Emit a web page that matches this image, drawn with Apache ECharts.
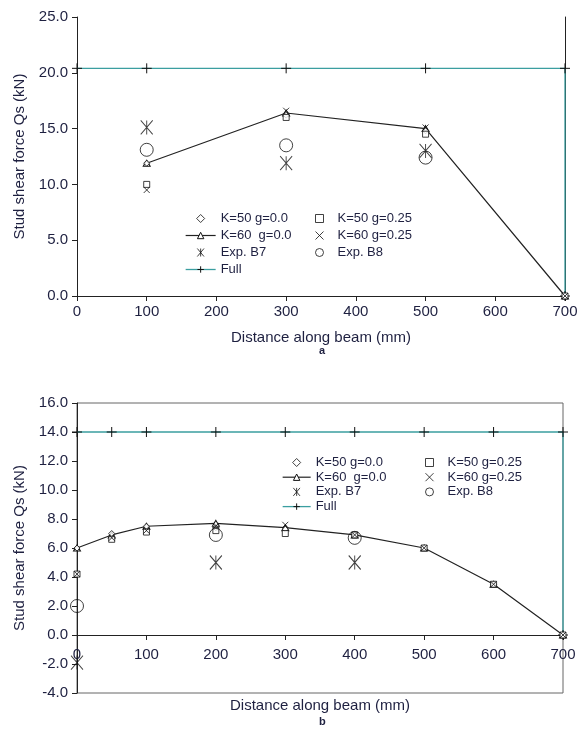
<!DOCTYPE html>
<html>
<head>
<meta charset="utf-8">
<script src="https://cdn.jsdelivr.net/npm/echarts@6/dist/echarts.min.js"></script>
<style>
  html, body { margin: 0; padding: 0; background: #fff; }
  #chart { width: 577px; height: 732px; }
</style>
</head>
<body>
<div id="chart"></div>
<script>
// ---- Panel a: stud shear force along the beam ----
const xA = [100, 300, 500, 700];
const aK50g0 = [11.9, 16.2, 14.8, 0];
const aK60g0 = [11.9, 16.4, 15.0, 0];
const aK50g25 = [10.0, 16.0, 14.5, 0];
const aK60g25 = [9.5, 16.6, 15.1, 0];
const xExpA = [100, 300, 500];
const aB7 = [15.1, 11.9, 13.0];
const aB8 = [13.1, 13.5, 12.4];
const xFullA = [0, 100, 300, 500, 700, 700];
const aFull = [20.4, 20.4, 20.4, 20.4, 20.4, 0];

// ---- Panel b ----
const xB = [0, 50, 100, 200, 300, 400, 500, 600, 700];
const bK50g0 = [6.0, 7.0, 7.5, 7.4, 7.3, 6.9, 6.0, 3.5, 0];
const bK60g0 = [6.0, 6.9, 7.5, 7.7, 7.4, 6.9, 6.0, 3.5, 0];
const bK50g25 = [4.2, 6.6, 7.1, 7.2, 7.0, 6.9, 6.0, 3.5, 0];
const bK60g25 = [4.2, 6.7, 7.2, 7.5, 7.6, 6.9, 6.0, 3.5, 0];
const xExpB = [0, 200, 400];
const bB7 = [-1.9, 5.0, 5.0];
const bB8 = [2.0, 6.9, 6.7];
const xFullB = [0, 50, 100, 200, 300, 400, 500, 600, 700, 700];
const bFull = [14.0, 14.0, 14.0, 14.0, 14.0, 14.0, 14.0, 14.0, 14.0, 0];

// y range of panel b; the distance axis sits on the zero line
const yMinB = -4, yMaxB = 16;
const gridBHeight = 290;

const NAMES = {
  k50g0: 'K=50 g=0.0',
  k60g0: 'K=60  g=0.0',
  b7: 'Exp. B7',
  full: 'Full',
  k50g25: 'K=50 g=0.25',
  k60g25: 'K=60 g=0.25',
  b8: 'Exp. B8'
};

const FONT = '"Liberation Sans", Arial, sans-serif';
const TXT = '#1e2040';
const TEAL = '#3b9ea0';

const SYM = {
  diamond: 'path://M5,0L10,5L5,10L0,5Z',
  triangle: 'path://M5,0L10,9L0,9Z',
  square: 'path://M0,0L10,0L10,10L0,10Z',
  cross: 'path://M0,0L10,10M10,0L0,10',
  star: 'path://M0,0L10,12M10,0L0,12M5,0L5,12',
  plus: 'path://M5,0L5,10M0,5L10,5'
};

const zip = (xs, ys) => xs.map((x, i) => [x, ys[i]]);

const hollow = { color: '#fff', borderColor: '#111', borderWidth: 1 };
const stroke = { color: 'none', borderColor: '#111', borderWidth: 1 };

function panelSeries(g, d) {
  const y = g === 0 ? 0 : 2;
  return [
    { name: NAMES.full, type: 'line', xAxisIndex: g, yAxisIndex: y,
      data: zip(d.xFull, d.full), symbol: SYM.plus, symbolSize: 10,
      lineStyle: { color: TEAL, width: 1.3 }, itemStyle: { color: 'none', borderColor: '#111', borderWidth: 1 }, z: 2 },
    { name: NAMES.k60g0, type: 'line', xAxisIndex: g, yAxisIndex: y,
      data: zip(d.x, d.k60g0), symbol: SYM.triangle, symbolSize: [7, 6],
      lineStyle: { color: '#222', width: 1.2 }, itemStyle: hollow, z: 3 },
    { name: NAMES.k50g0, type: 'scatter', xAxisIndex: g, yAxisIndex: y,
      data: zip(d.x, d.k50g0), symbol: SYM.diamond, symbolSize: 6, itemStyle: hollow, z: 4 },
    { name: NAMES.k50g25, type: 'scatter', xAxisIndex: g, yAxisIndex: y,
      data: zip(d.x, d.k50g25), symbol: SYM.square, symbolSize: 6, itemStyle: hollow, z: 4 },
    { name: NAMES.k60g25, type: 'scatter', xAxisIndex: g, yAxisIndex: y,
      data: zip(d.x, d.k60g25), symbol: SYM.cross, symbolSize: 6, itemStyle: stroke, z: 4 },
    { name: NAMES.b7, type: 'scatter', xAxisIndex: g, yAxisIndex: y,
      data: zip(d.xExp, d.b7), symbol: SYM.star, symbolSize: [12, 14], itemStyle: stroke, z: 4 },
    { name: NAMES.b8, type: 'scatter', xAxisIndex: g, yAxisIndex: y,
      data: zip(d.xExp, d.b8), symbol: 'circle', symbolSize: 13,
      itemStyle: { color: 'none', borderColor: '#111', borderWidth: 1 }, z: 4 }
  ];
}

function legend(left, top, width, gap, names) {
  return {
    orient: 'vertical', left: left, top: top, padding: 0,
    itemWidth: width, itemHeight: 8, itemGap: gap,
    selectedMode: false, symbolKeepAspect: true,
    itemStyle: { borderWidth: 1 }, lineStyle: { width: 1 },
    textStyle: { fontFamily: FONT, fontSize: 13, color: TXT, lineHeight: 13 },
    data: names.map(n => n === NAMES.full
      ? { name: n, lineStyle: { color: TEAL, width: 1.3 } }
      : n === NAMES.k60g0 ? { name: n, lineStyle: { color: '#222', width: 1.2 } } : n)
  };
}

const fmt1 = v => v.toFixed(1);
const axisFont = { fontFamily: FONT, fontSize: 15, color: TXT };

const option = {
  animation: false,
  backgroundColor: '#fff',
  grid: [
    { left: 77, top: 17, width: 488, height: 279, show: false, outerBoundsMode: 'none', containLabel: false },
    { left: 77, top: 403, width: 486, height: gridBHeight, show: true, borderColor: '#666', borderWidth: 1,
      outerBoundsMode: 'none', containLabel: false }
  ],
  xAxis: [
    { gridIndex: 0, type: 'value', min: 0, max: 700, interval: 100,
      axisLine: { lineStyle: { color: '#222' } }, axisTick: { length: 5, lineStyle: { color: '#222' } },
      axisLabel: Object.assign({ margin: 8 }, axisFont), splitLine: { show: false },
      name: 'Distance along beam (mm)', nameLocation: 'middle', nameGap: 34, nameTextStyle: axisFont },
    { gridIndex: 1, type: 'value', min: 0, max: 700, interval: 100,
      offset: -gridBHeight * (0 - yMinB) / (yMaxB - yMinB),
      axisLine: { onZero: false, lineStyle: { color: '#222' } }, axisTick: { length: 5, lineStyle: { color: '#222' } },
      axisLabel: Object.assign({ margin: 12 }, axisFont), splitLine: { show: false },
      name: 'Distance along beam (mm)', nameLocation: 'middle', nameGap: 63, nameTextStyle: axisFont }
  ],
  yAxis: [
    { gridIndex: 0, type: 'value', min: 0, max: 25, interval: 5,
      axisLine: { show: true, lineStyle: { color: '#222' } }, axisTick: { show: true, length: 5, lineStyle: { color: '#222' } },
      axisLabel: Object.assign({ margin: 9, formatter: fmt1 }, axisFont), splitLine: { show: false },
      name: 'Stud shear force Qs (kN)', nameLocation: 'middle', nameGap: 50, nameTextStyle: axisFont },
    { gridIndex: 0, type: 'value', min: 0, max: 25, interval: 5, position: 'right',
      axisLine: { show: true, lineStyle: { color: '#222' } }, axisTick: { show: false },
      axisLabel: { show: false }, splitLine: { show: false } },
    { gridIndex: 1, type: 'value', min: yMinB, max: yMaxB, interval: 2,
      axisLine: { show: true, onZero: false, lineStyle: { color: '#222' } }, axisTick: { show: true, length: 5, lineStyle: { color: '#222' } },
      axisLabel: Object.assign({ margin: 9, formatter: fmt1 }, axisFont), splitLine: { show: false },
      name: 'Stud shear force Qs (kN)', nameLocation: 'middle', nameGap: 50, nameTextStyle: axisFont }
  ],
  legend: [
    legend(185, 212, 30, 4, [NAMES.k50g0, NAMES.k60g0, NAMES.b7, NAMES.full]),
    legend(313, 212, 26, 4, [NAMES.k50g25, NAMES.k60g25, NAMES.b8]),
    legend(282, 456, 28, 1.7, [NAMES.k50g0, NAMES.k60g0, NAMES.b7, NAMES.full]),
    legend(423, 456, 26, 1.7, [NAMES.k50g25, NAMES.k60g25, NAMES.b8])
  ],
  graphic: [
    { type: 'text', left: 319, top: 345, style: { text: 'a', font: 'bold 11px ' + FONT, fill: TXT } },
    { type: 'text', left: 319, top: 716, style: { text: 'b', font: 'bold 11px ' + FONT, fill: TXT } }
  ],
  series: [].concat(
    panelSeries(0, { x: xA, k50g0: aK50g0, k60g0: aK60g0, k50g25: aK50g25, k60g25: aK60g25,
      xExp: xExpA, b7: aB7, b8: aB8, xFull: xFullA, full: aFull }),
    panelSeries(1, { x: xB, k50g0: bK50g0, k60g0: bK60g0, k50g25: bK50g25, k60g25: bK60g25,
      xExp: xExpB, b7: bB7, b8: bB8, xFull: xFullB, full: bFull })
  )
};

const chart = echarts.init(document.getElementById('chart'), null, { renderer: 'canvas' });
chart.setOption(option);
</script>
</body>
</html>
